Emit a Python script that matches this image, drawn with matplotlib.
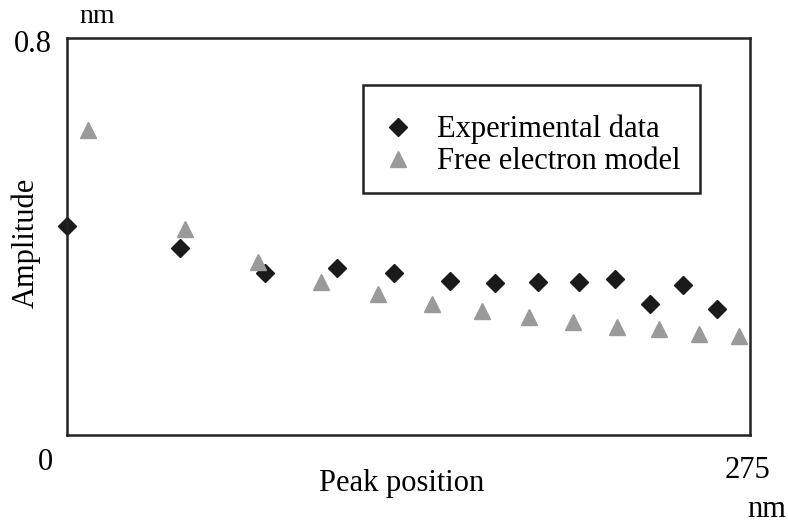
import matplotlib
matplotlib.use("Agg")
from matplotlib import pyplot as plt
from matplotlib.patches import Rectangle

# data (x in nm, amplitude in nm)
exp_x = [0, 45.5, 79.7, 108.6, 131.6, 154.2, 172.3, 189.6, 206.1, 220.6, 234.7, 248.0, 261.7]
exp_y = [0.421, 0.377, 0.327, 0.337, 0.327, 0.310, 0.306, 0.308, 0.308, 0.315, 0.264, 0.302, 0.254]
free_x = [8.5, 47.5, 76.9, 102.3, 125.2, 146.9, 167.1, 186.0, 203.7, 221.4, 238.3, 254.6, 270.4]
free_y = [0.615, 0.415, 0.349, 0.308, 0.284, 0.264, 0.250, 0.238, 0.228, 0.218, 0.214, 0.204, 0.200]

plt.rcParams['font.family'] = ['Liberation Serif', 'DejaVu Serif']

W, H = 788, 523
fig = plt.figure(figsize=(W / 100, H / 100), dpi=100)
ax = fig.add_axes([67 / W, 1 - 435 / H, 683 / W, 397 / H])

ax.plot(exp_x, exp_y, linestyle='none', marker='D', markersize=9,
        color='#1a1a1a', label='Experimental data', clip_on=False)
ax.plot(free_x, free_y, linestyle='none', marker='^', markersize=11,
        color='#9a9a9a', label='Free electron model', clip_on=False)

ax.set_xlim(0, 275)
ax.set_ylim(0, 0.8)
ax.set_xticks([])
ax.set_yticks([])
for s in ax.spines.values():
    s.set_linewidth(1.8)
    s.set_color('#222222')

fs = 22


def put(px, py, s, **kw):
    # place text at pixel position (baseline) of the figure
    kw.setdefault('va', 'baseline')
    kw.setdefault('fontsize', fs)
    fig.text(px / W, 1 - py / H, s, ha='center', **kw)


put(33, 52, '0.8')
put(45, 470, '0')
put(748, 478, '275')
put(97, 23, 'nm', fontsize=20)
put(767, 517, 'nm')
put(26, 243, 'Amplitude', rotation=90, va='center')
put(402, 491, 'Peak position')

# legend without its own frame, box drawn separately
leg = ax.legend(loc='upper left', bbox_to_anchor=(0.4213, 0.882), fontsize=fs,
                frameon=False, borderaxespad=0, borderpad=0.98, handletextpad=0.8,
                labelspacing=0.1, handlelength=0.9)
fig.patches.append(Rectangle((363 / W, 1 - 193 / H), 337 / W, 108 / H,
                             transform=fig.transFigure, fill=False,
                             edgecolor='#222222', linewidth=1.8))

fig.savefig('out.png', dpi=100)
